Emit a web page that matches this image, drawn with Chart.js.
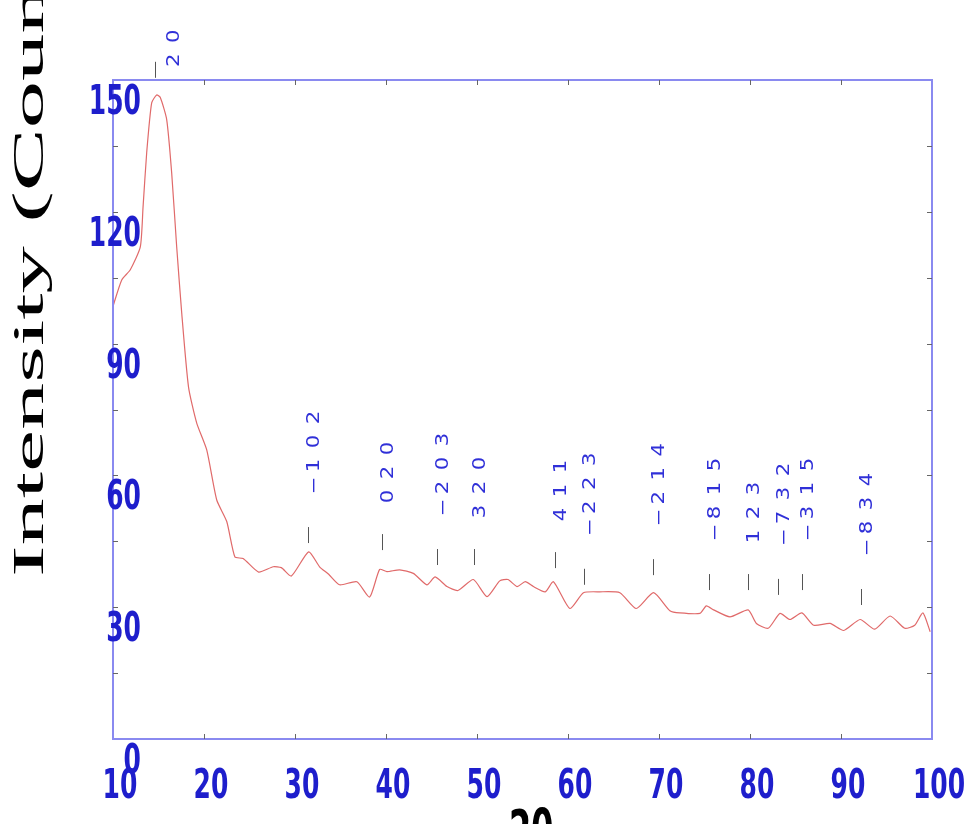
<!DOCTYPE html>
<html>
<head>
<meta charset="utf-8">
<script src="https://cdn.jsdelivr.net/npm/chart.js@4.4.1/dist/chart.umd.min.js"></script>
<style>
html, body { margin: 0; padding: 0; background: #fff; }
#wrap { width: 977px; height: 824px; }
</style>
</head>
<body>
<div id="wrap"><canvas id="xrdChart" width="977" height="824"></canvas></div>
<script>
// XRD pattern values
const twoTheta = [10.0, 10.96, 11.9, 13.0, 13.3, 13.7, 14.25, 14.8, 15.2, 15.9, 16.45, 17.0, 17.55, 18.3, 19.2,
    20.3, 21.4, 22.5, 23.4, 24.3, 26.0, 27.6, 28.5, 29.6, 31.5, 32.7, 33.7, 34.9, 36.8, 38.2, 39.3, 40.1,
    41.5, 43.0, 44.5, 45.4, 46.7, 47.9, 49.6, 51.1, 52.5, 53.4, 54.4, 55.3, 56.2, 57.5, 58.4, 60.2, 61.7,
    63.5, 65.7, 67.5, 69.4, 71.2, 72.3, 74.5, 75.2, 76.0, 77.8, 79.8, 80.7, 82.0, 83.3, 84.4, 85.7, 87.0,
    88.8, 90.3, 92.1, 93.7, 95.4, 97.0, 98.1, 99.0, 99.8];
const intensity = [98.5, 104.5, 106.8, 112, 121, 133.4, 144.8, 146.6, 146, 141, 128.8, 112, 97, 80.1, 71.9,
    65.8, 54.4, 49.5, 41.4, 41.1, 38.0, 39.2, 39.0, 37.1, 42.6, 39.2, 37.5, 35.1, 35.8, 32.3, 38.6, 38.1,
    38.5, 37.7, 35.1, 36.9, 34.7, 33.8, 36.3, 32.4, 36.0, 36.3, 34.7, 35.8, 34.7, 33.5, 35.8, 29.7, 33.3,
    33.5, 33.3, 29.7, 33.3, 29.2, 28.7, 28.6, 30.3, 29.4, 27.8, 29.4, 26.3, 25.2, 28.6, 27.2, 28.7, 25.9,
    26.3, 24.7, 27.2, 25.0, 28.0, 25.2, 25.9, 28.7, 24.4];

const xTickLabels = [10, 20, 30, 40, 50, 60, 70, 80, 90, 100];
const yTickLabels = [0, 30, 60, 90, 120, 150];
const yMinorTicks = [15, 30, 45, 60, 75, 90, 105, 120, 135];

// reflection markers (hkl)
const peakTwoTheta = [14.6, 31.4, 39.6, 45.6, 49.7, 58.6, 61.8, 69.3, 75.5, 79.8, 83.1, 85.7, 92.2];
const peakHkl = [['2', '0'], ['-', '1', '0', '2'], ['0', '2', '0'], ['-', '2', '0', '3'], ['3', '2', '0'],
    ['4', '1', '1'], ['-', '2', '2', '3'], ['-', '2', '1', '4'], ['-', '8', '1', '5'], ['1', '2', '3'],
    ['-', '7', '3', '2'], ['-', '3', '1', '5'], ['-', '8', '3', '4']];
const peakMarkBase = [150.5, 44.6, 43.0, 39.6, 39.6, 38.9, 35.1, 37.3, 33.9, 33.9, 32.8, 33.9, 30.5];

const axisBlue = '#8a8af0';
const labelBlue = '#1e1ecc';
const hklBlue = '#3030d8';

function stretchedText(ctx, text, x, y, rot, sx, sy) {
    ctx.save();
    ctx.translate(x, y);
    ctx.rotate(rot);
    ctx.scale(sx, sy);
    ctx.fillText(text, 0, 0);
    ctx.restore();
}

const decorPlugin = {
    id: 'xrdDecor',
    afterDraw(chart) {
        const ctx = chart.ctx;
        const area = chart.chartArea;
        const xs = chart.scales.x;
        const ys = chart.scales.y;

        // plot box
        ctx.save();
        ctx.strokeStyle = axisBlue;
        ctx.lineWidth = 2;
        ctx.strokeRect(area.left, area.top, area.right - area.left, area.bottom - area.top);

        // inward tick marks
        ctx.strokeStyle = '#666';
        ctx.lineWidth = 1;
        ctx.beginPath();
        xTickLabels.slice(1, -1).forEach(v => {
            const px = Math.round(xs.getPixelForValue(v)) + 0.5;
            ctx.moveTo(px, area.bottom); ctx.lineTo(px, area.bottom - 5);
            ctx.moveTo(px, area.top); ctx.lineTo(px, area.top + 5);
        });
        yMinorTicks.forEach(v => {
            const py = Math.round(ys.getPixelForValue(v)) + 0.5;
            ctx.moveTo(area.left, py); ctx.lineTo(area.left + 5, py);
            ctx.moveTo(area.right, py); ctx.lineTo(area.right - 5, py);
        });
        ctx.stroke();

        // tick labels (the figure is stretched vertically)
        ctx.fillStyle = labelBlue;
        ctx.font = 'bold 25px "DejaVu Sans"';
        ctx.textBaseline = 'alphabetic';
        ctx.textAlign = 'right';
        yTickLabels.forEach(v => {
            const py = ys.getPixelForValue(v) + 19;
            stretchedText(ctx, String(v), area.left + 28, py + 15, 0, 1, 1.65);
        });
        ctx.textAlign = 'center';
        xTickLabels.forEach(v => {
            const px = xs.getPixelForValue(v) + 7;
            stretchedText(ctx, String(v), px, 798, 0, 1, 1.65);
        });

        // axis titles
        ctx.fillStyle = '#000';
        ctx.font = '45px "Liberation Serif"';
        ctx.textAlign = 'left';
        stretchedText(ctx, 'Intensity (Counts)', 43, 577, -Math.PI / 2, 2.1, 1);
        ctx.font = 'bold 32px "DejaVu Sans"';
        ctx.textAlign = 'center';
        ctx.textBaseline = 'top';
        stretchedText(ctx, '2θ', 531, 808, 0, 1, 1.7);

        // hkl markers
        const pitch = 24;
        ctx.font = '17px "DejaVu Sans"';
        peakTwoTheta.forEach((t, i) => {
            const px = Math.round(xs.getPixelForValue(t)) + 0.5;
            const base = ys.getPixelForValue(peakMarkBase[i]);
            const top = base - 16;
            ctx.strokeStyle = '#555';
            ctx.beginPath();
            ctx.moveTo(px, base); ctx.lineTo(px, top);
            ctx.stroke();

            const tokens = peakHkl[i];
            const len = (tokens.length - 1) * pitch + 15;
            let tx = px - 2;
            let bottom = top - 30;
            if (bottom - len < 0) {
                tx = px + 11;
                bottom = top + 6;
            }
            ctx.fillStyle = hklBlue;
            ctx.textBaseline = 'top';
            ctx.textAlign = 'center';
            tokens.forEach((tk, j) => {
                const cy = bottom - 7.5 - j * pitch + (tk === '-' ? -4 : 0);
                stretchedText(ctx, tk === '-' ? '\u2212' : tk, tx, cy, -Math.PI / 2, 1.25, 1);
            });
        });
        ctx.restore();
    }
};

new Chart(document.getElementById('xrdChart'), {
    type: 'line',
    data: {
        datasets: [{
            label: 'XRD',
            data: twoTheta.map((t, i) => ({ x: t, y: intensity[i] })),
            borderColor: '#e06a6a',
            borderWidth: 1.2,
            pointRadius: 0,
            tension: 0.2,
            fill: false
        }]
    },
    options: {
        responsive: false,
        animation: false,
        layout: { padding: { left: 113, top: 80, right: 45, bottom: 85 } },
        plugins: {
            legend: { display: false },
            tooltip: { enabled: false }
        },
        scales: {
            x: { type: 'linear', min: 10, max: 100, display: false },
            y: { type: 'linear', min: 0, max: 150, display: false }
        }
    },
    plugins: [decorPlugin]
});
</script>
</body>
</html>
